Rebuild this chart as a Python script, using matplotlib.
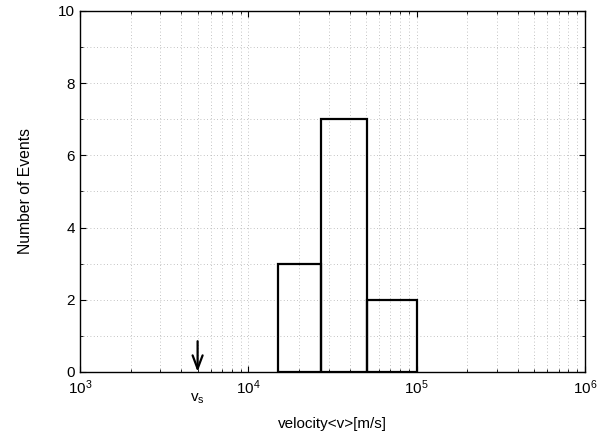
import numpy as np
import matplotlib.pyplot as plt
from matplotlib.ticker import LogLocator, MultipleLocator, NullFormatter

plt.rcParams['font.family'] = ['Liberation Sans', 'DejaVu Sans']

# histogram bin edges [m/s] and counts
bin_edges = [15000, 27000, 51000, 100000]
counts = [3, 7, 2]
v_s = 5000

fig = plt.figure(figsize=(6.06, 4.37), dpi=100)
ax = fig.add_axes([0.132, 0.149, 0.833, 0.826])

ax.set_xscale('log')
ax.set_xlim(1e3, 1e6)
ax.set_ylim(0, 10)

edges = np.array(bin_edges)
ax.bar(edges[:-1], counts, width=np.diff(edges), align='edge',
       fill=False, edgecolor='black', linewidth=1.6, zorder=3)

ax.xaxis.set_major_locator(LogLocator(base=10))
ax.xaxis.set_minor_locator(LogLocator(base=10, subs=np.arange(2, 10)))
ax.xaxis.set_minor_formatter(NullFormatter())
ax.yaxis.set_major_locator(MultipleLocator(2))
ax.yaxis.set_minor_locator(MultipleLocator(1))

ax.grid(True, which='both', color='#b0b0b0', linestyle=(0, (1, 3)), linewidth=0.6)
ax.tick_params(which='both', direction='in', top=True, right=True, labelsize=11)
ax.tick_params(which='major', length=4)
ax.tick_params(which='minor', length=2)
ax.tick_params(axis='x', pad=5)

for s in ax.spines.values():
    s.set_linewidth(1.0)

# arrow marking v_s
ax.annotate('', xy=(v_s, 0), xytext=(v_s, 0.85),
            arrowprops=dict(arrowstyle='->,head_length=0.8,head_width=0.3',
                            color='black', lw=1.6, mutation_scale=12,
                            shrinkA=0, shrinkB=0), zorder=4)
ax.text(v_s, -0.55, r'v$_\mathregular{s}$', ha='center', va='top', fontsize=11)

ax.set_xlabel('velocity<v>[m/s]', fontsize=11, labelpad=14)
ax.set_ylabel('Number of Events', fontsize=11.3, labelpad=18)

fig.savefig('out.png', dpi=100)
